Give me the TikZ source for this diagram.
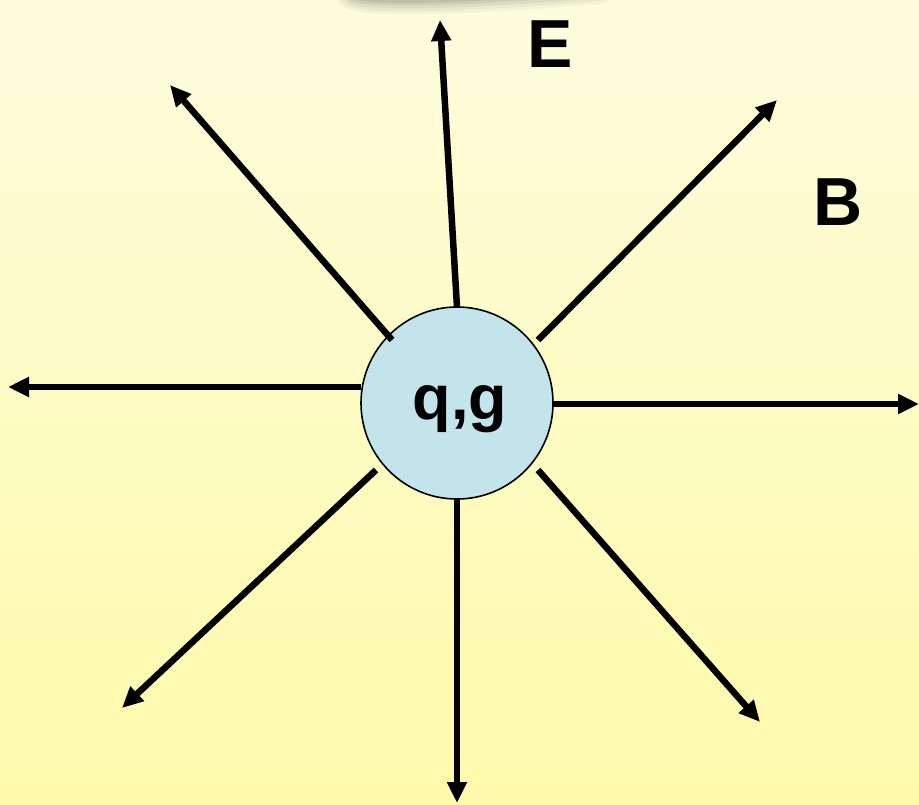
\documentclass[tikz,border=0pt]{standalone}
\usepackage{fontspec}
\setmainfont{Liberation Sans}
\usetikzlibrary{arrows.meta}
\definecolor{bgtop}{RGB}{253,252,222}
\definecolor{bgbot}{RGB}{255,250,170}
\definecolor{chargefill}{RGB}{195,228,234}
\tikzset{
  ray/.style={line width=6.5pt,-{Triangle[length=21pt,width=19pt]}},
  lbl/.style={font=\fontsize{68}{72}\selectfont\bfseries,inner sep=0pt},
  charge/.style={circle,draw=black,line width=1.6pt,fill=chargefill,minimum size=192pt,inner sep=0pt}
}
\begin{document}
\begin{tikzpicture}[x=1pt,y=-1pt]
\useasboundingbox (0,0) rectangle (919,804);
\shade[top color=bgtop,bottom color=bgbot] (0,0) rectangle (919,804);
% shadow at top
\foreach \o/\w in {0.05/28,0.06/22,0.08/16,0.10/10,0.12/5}{
  \draw[line width=\w pt,line cap=round,draw=black!70,opacity=\o] (350,-6) .. controls (360,4) and (450,2) .. (600,-10);
}
\node[charge] (q) at (457,403) {};
\node[font=\fontsize{63}{66}\selectfont\bfseries,inner sep=0pt] (qt) at (460,409) {q,g};
\coordinate (s1) at (457,307); \coordinate (e1) at (440,20);
\coordinate (s2) at (392,340); \coordinate (e2) at (170,85);
\coordinate (s3) at (538,340); \coordinate (e3) at (777,100);
\coordinate (s4) at (361,387); \coordinate (e4) at (8,387);
\coordinate (s5) at (553,404); \coordinate (e5) at (919,404);
\coordinate (s6) at (376,470); \coordinate (e6) at (122,708);
\coordinate (s7) at (457,500); \coordinate (e7) at (457,803);
\coordinate (s8) at (538,470); \coordinate (e8) at (760,722);
\foreach \i in {1,...,8}{ \draw[ray] (s\i) -- (e\i); }
\node[lbl] (E) at (550,44) {E};
\node[lbl] (B) at (838,202) {B};
\end{tikzpicture}
\end{document}
